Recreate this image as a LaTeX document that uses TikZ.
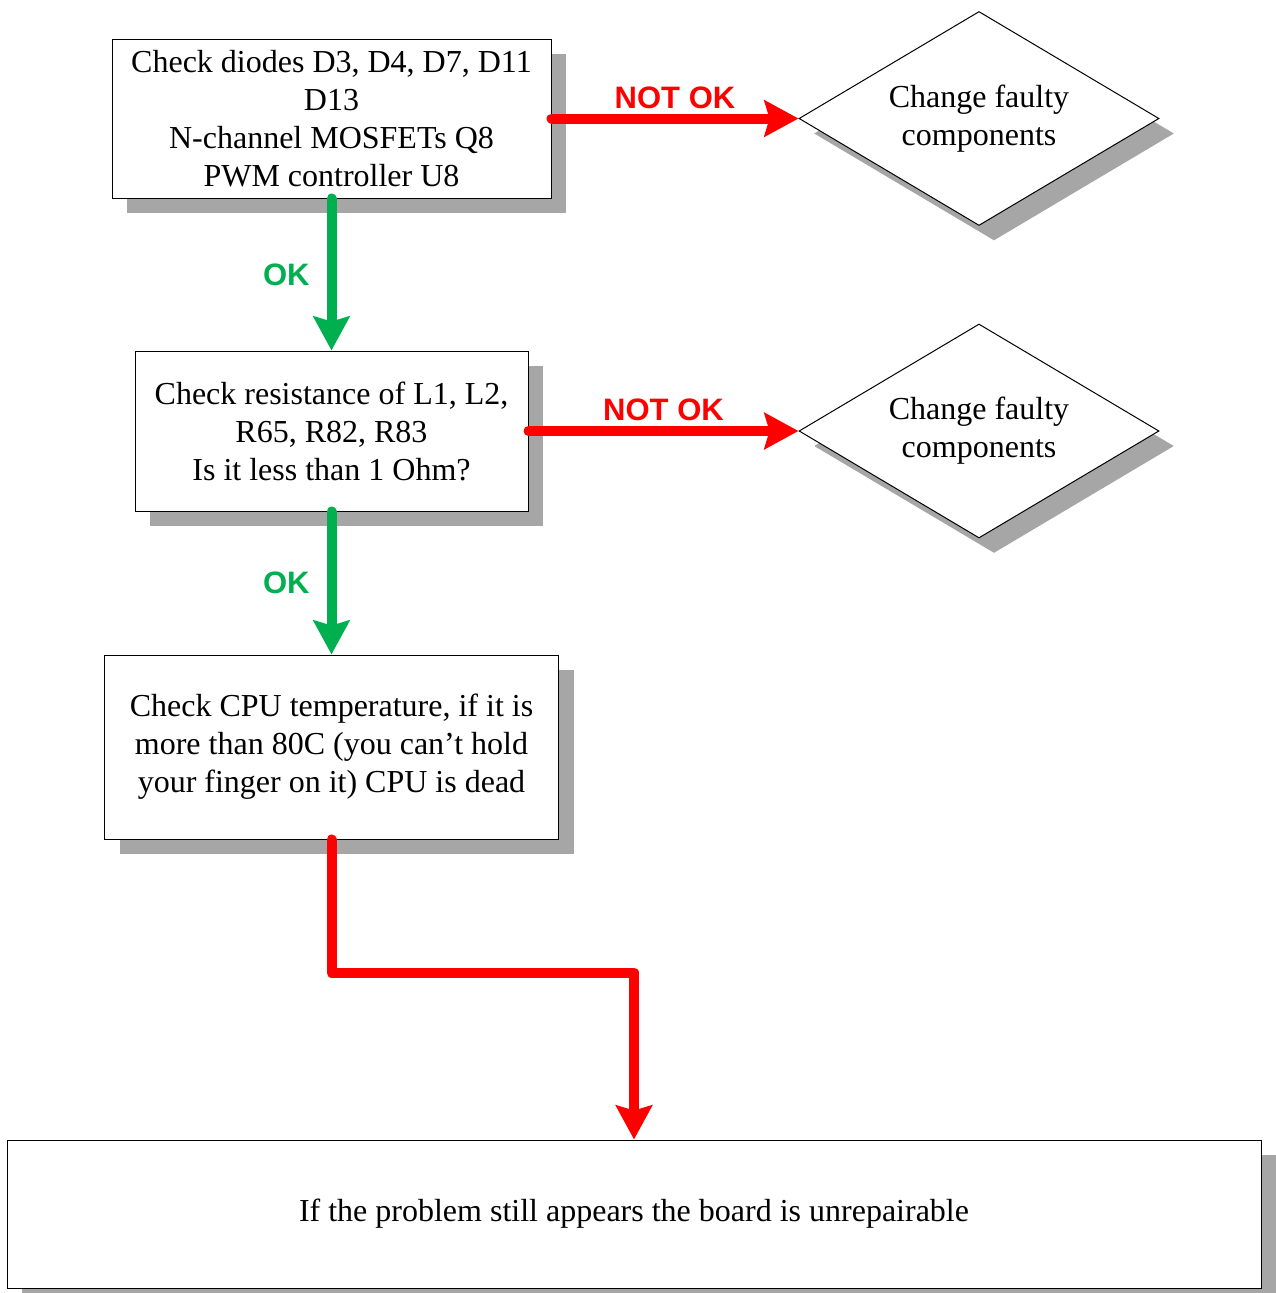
\documentclass[tikz,border=0pt]{standalone}
\usepackage{fontspec}
\setmainfont{Liberation Serif}
\newfontfamily\tagfont{Liberation Sans}
\usepackage{tikz}
\usetikzlibrary{arrows.meta,positioning,shapes.geometric,shadows}
\definecolor{okgreen}{HTML}{00B050}
\definecolor{failred}{HTML}{FF0000}
\definecolor{shadowgray}{HTML}{A6A6A6}

\begin{document}
\begin{tikzpicture}[x=1pt, y=-1pt, font=\fontsize{32}{38}\selectfont,
    boxshadow/.style={drop shadow={shadow xshift=15pt, shadow yshift=-15pt, fill=shadowgray, opacity=1}},
    check/.style={draw, fill=white, line width=1pt, align=center, inner sep=0pt, boxshadow},
    fix/.style={diamond, aspect=1.68, draw, fill=white, line width=1pt, align=center, inner sep=0pt,
      minimum width=360pt, minimum height=214pt, boxshadow},
    flow/.style={-{Stealth[length=34pt, width=36pt, inset=5pt]}, line width=10pt, line cap=round, line join=round},
    tag/.style={font=\tagfont\bfseries\fontsize{31}{31}\selectfont, inner sep=0pt}]
  \useasboundingbox (0,0) rectangle (1275,1293);
  \node[check, minimum width=439pt, minimum height=159pt] (diodes) at (331.5,118.5)
    {Check diodes D3, D4, D7, D11\\D13\\N-channel MOSFETs Q8\\PWM controller U8};
  \node[check, minimum width=393pt, minimum height=160pt, below=152pt of diodes] (resist)
    {Check resistance of L1, L2,\\R65, R82, R83\\Is it less than 1 Ohm?};
  \node[check, minimum width=454pt, minimum height=184pt, below=143pt of resist] (cpu)
    {Check CPU temperature, if it is\\more than 80C (you can't hold\\your finger on it) CPU is dead};
  \node[check, minimum width=1254pt, minimum height=148pt] (verdict) at (634,1214)
    {If the problem still appears the board is unrepairable};
  \node[fix, right=247pt of diodes] (swap1) {Change faulty\\components};
  \node[fix, right=270pt of resist] (swap2) {Change faulty\\components};
  \draw[flow, failred] (diodes.east) -- node[tag, above=5pt, text=failred] {NOT OK} (swap1.west);
  \draw[flow, okgreen] (diodes.south) -- node[tag, left=17pt, text=okgreen] {OK} (resist.north);
  \draw[flow, failred] (resist.east) -- node[tag, above=5pt, text=failred] {NOT OK} (swap2.west);
  \draw[flow, okgreen] (resist.south) -- node[tag, left=17pt, text=okgreen] {OK} (cpu.north);
  \draw[flow, failred] (cpu.south) -- ++(0,133) -| (verdict.north);
\end{tikzpicture}
\end{document}
